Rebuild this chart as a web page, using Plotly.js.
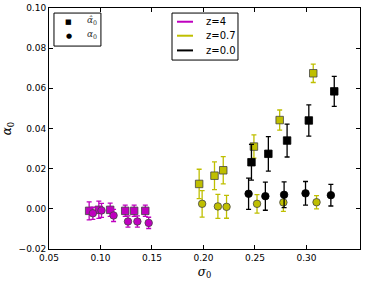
<!DOCTYPE html>
<html><head><meta charset="utf-8">
<script src="https://cdn.plot.ly/plotly-3.0.1.min.js"></script>
<style>html,body{margin:0;padding:0;background:#fff}#c{width:374px;height:281px}</style>
</head><body><div id="c"></div>
<script>
// z=4 (magenta)
const m_sq_x = [0.0890, 0.0984, 0.1094, 0.1240, 0.1327, 0.1435];
const m_sq_y = [-0.0010, -0.0005, -0.0005, -0.0010, -0.0010, -0.0010];
const m_sq_e = [0.0045, 0.0043, 0.0033, 0.0028, 0.0028, 0.0028];
const m_ci_x = [0.0926, 0.1010, 0.1127, 0.1267, 0.1358, 0.1468];
const m_ci_y = [-0.0022, -0.0008, -0.0033, -0.0063, -0.0063, -0.0070];
const m_ci_e = [0.0030, 0.0035, 0.0030, 0.0028, 0.0028, 0.0028];
// z=0.7 (yellow)
const y_sq_x = [0.1958, 0.2107, 0.2192, 0.2490, 0.2740, 0.3066];
const y_sq_y = [0.0124, 0.0165, 0.0192, 0.0310, 0.0442, 0.0675];
const y_sq_e = [0.0073, 0.0069, 0.0068, 0.0058, 0.0050, 0.0046];
const y_ci_x = [0.1987, 0.2140, 0.2224, 0.2520, 0.2776, 0.3098];
const y_ci_y = [0.0025, 0.0012, 0.0010, 0.0025, 0.0032, 0.0033];
const y_ci_e = [0.0066, 0.0060, 0.0057, 0.0046, 0.0045, 0.0033];
// z=0.0 (black)
const k_sq_x = [0.2466, 0.2630, 0.2812, 0.3023, 0.3270];
const k_sq_y = [0.0232, 0.0274, 0.0340, 0.0440, 0.0585];
const k_sq_e = [0.0089, 0.0086, 0.0082, 0.0078, 0.0075];
const k_ci_x = [0.2438, 0.2601, 0.2783, 0.2991, 0.3237];
const k_ci_y = [0.0075, 0.0063, 0.0070, 0.0077, 0.0068];
const k_ci_e = [0.0078, 0.0070, 0.0064, 0.0059, 0.0054];

const xTicks = [0.05, 0.10, 0.15, 0.20, 0.25, 0.30];
const xTickText = ['0.05', '0.10', '0.15', '0.20', '0.25', '0.30'];
const yTicks = [-0.02, 0.00, 0.02, 0.04, 0.06, 0.08, 0.10];
const yTickText = ['\u22120.02', '0.00', '0.02', '0.04', '0.06', '0.08', '0.10'];

const zLabels = ['z=4', 'z=0.7', 'z=0.0'];
const markerLabels = ['<i>α̂</i><sub>0</sub>', '<i>α</i><sub>0</sub>'];

const MAG = '#bf00bf', YEL = '#bfbf00', BLK = '#000000';
const zColors = [MAG, YEL, BLK];

function series(x, y, e, color, symbol, edge) {
  return {
    x: x, y: y, type: 'scatter', mode: 'markers', showlegend: false,
    marker: {symbol: symbol, size: 7.5, color: color, line: {color: edge, width: 0.8}},
    error_y: {type: 'data', array: e, visible: true, color: color, thickness: 1.3, width: 2.5}
  };
}

const traces = [
  series(m_sq_x, m_sq_y, m_sq_e, MAG, 'square', '#444'),
  series(m_ci_x, m_ci_y, m_ci_e, MAG, 'circle', '#444'),
  series(y_sq_x, y_sq_y, y_sq_e, YEL, 'square', '#444'),
  series(y_ci_x, y_ci_y, y_ci_e, YEL, 'circle', '#444'),
  series(k_sq_x, k_sq_y, k_sq_e, BLK, 'square', '#000'),
  series(k_ci_x, k_ci_y, k_ci_e, BLK, 'circle', '#000')
];

// legend boxes drawn in paper coordinates
const shapes = [
  {type: 'rect', xref: 'paper', yref: 'paper', x0: 0.016, x1: 0.167, y0: 0.842, y1: 0.979,
   line: {color: '#000', width: 1}, fillcolor: '#fff', layer: 'above'},
  {type: 'rect', xref: 'paper', yref: 'paper', x0: 0.3955, x1: 0.6077, y0: 0.784, y1: 0.979,
   line: {color: '#000', width: 1}, fillcolor: '#fff', layer: 'above'}
];
const rowY2 = [0.943, 0.885, 0.824];
const annotations = [];
zLabels.forEach((t, i) => {
  shapes.push({type: 'line', xref: 'paper', yref: 'paper', x0: 0.4116, x1: 0.463, y0: rowY2[i], y1: rowY2[i],
    line: {color: zColors[i], width: 2}, layer: 'above'});
  annotations.push({xref: 'paper', yref: 'paper', x: 0.497, y: rowY2[i], xanchor: 'left', yanchor: 'middle',
    text: t, showarrow: false, font: {family: 'DejaVu Sans', size: 10, color: '#000'}});
});
const rowY1 = [0.943, 0.885];
const symChars = ['\u25A0', '\u25CF'];
markerLabels.forEach((t, i) => {
  annotations.push({xref: 'paper', yref: 'paper', x: (68.5 - 49) / 311, y: rowY1[i], xanchor: 'center', yanchor: 'middle',
    text: symChars[i], showarrow: false, font: {family: 'DejaVu Sans', size: 7, color: '#000'}});
  annotations.push({xref: 'paper', yref: 'paper', x: (85 - 49) / 311, y: rowY1[i] + 0.005, xanchor: 'left', yanchor: 'middle',
    text: t, showarrow: false, font: {family: 'DejaVu Serif', size: 9, color: '#333'}});
});

const axisCommon = {
  showgrid: false, zeroline: false, showline: true, linecolor: '#000', linewidth: 1,
  mirror: 'allticks', ticks: 'inside', ticklen: 4, tickcolor: '#000', tickwidth: 1,
  tickfont: {family: 'DejaVu Sans', size: 9, color: '#000'}
};

const layout = {
  width: 374, height: 281,
  margin: {l: 49, r: 14, t: 8, b: 32},
  paper_bgcolor: '#fff', plot_bgcolor: '#fff',
  showlegend: false,
  xaxis: Object.assign({}, axisCommon, {
    range: [0.05, 0.352], tickmode: 'array', tickvals: xTicks, ticktext: xTickText,
    title: {text: '<i>σ</i><sub>0</sub>', font: {family: 'DejaVu Serif', size: 12, color: '#000'}, standoff: 5}
  }),
  yaxis: Object.assign({}, axisCommon, {
    range: [-0.02, 0.10], tickmode: 'array', tickvals: yTicks, ticktext: yTickText,
    title: {text: '<i>α</i><sub>0</sub>', font: {family: 'DejaVu Serif', size: 12, color: '#000'}, standoff: 7}
  }),
  shapes: shapes,
  annotations: annotations
};

Plotly.newPlot('c', traces, layout, {displayModeBar: false, staticPlot: true});
</script>
</body></html>
